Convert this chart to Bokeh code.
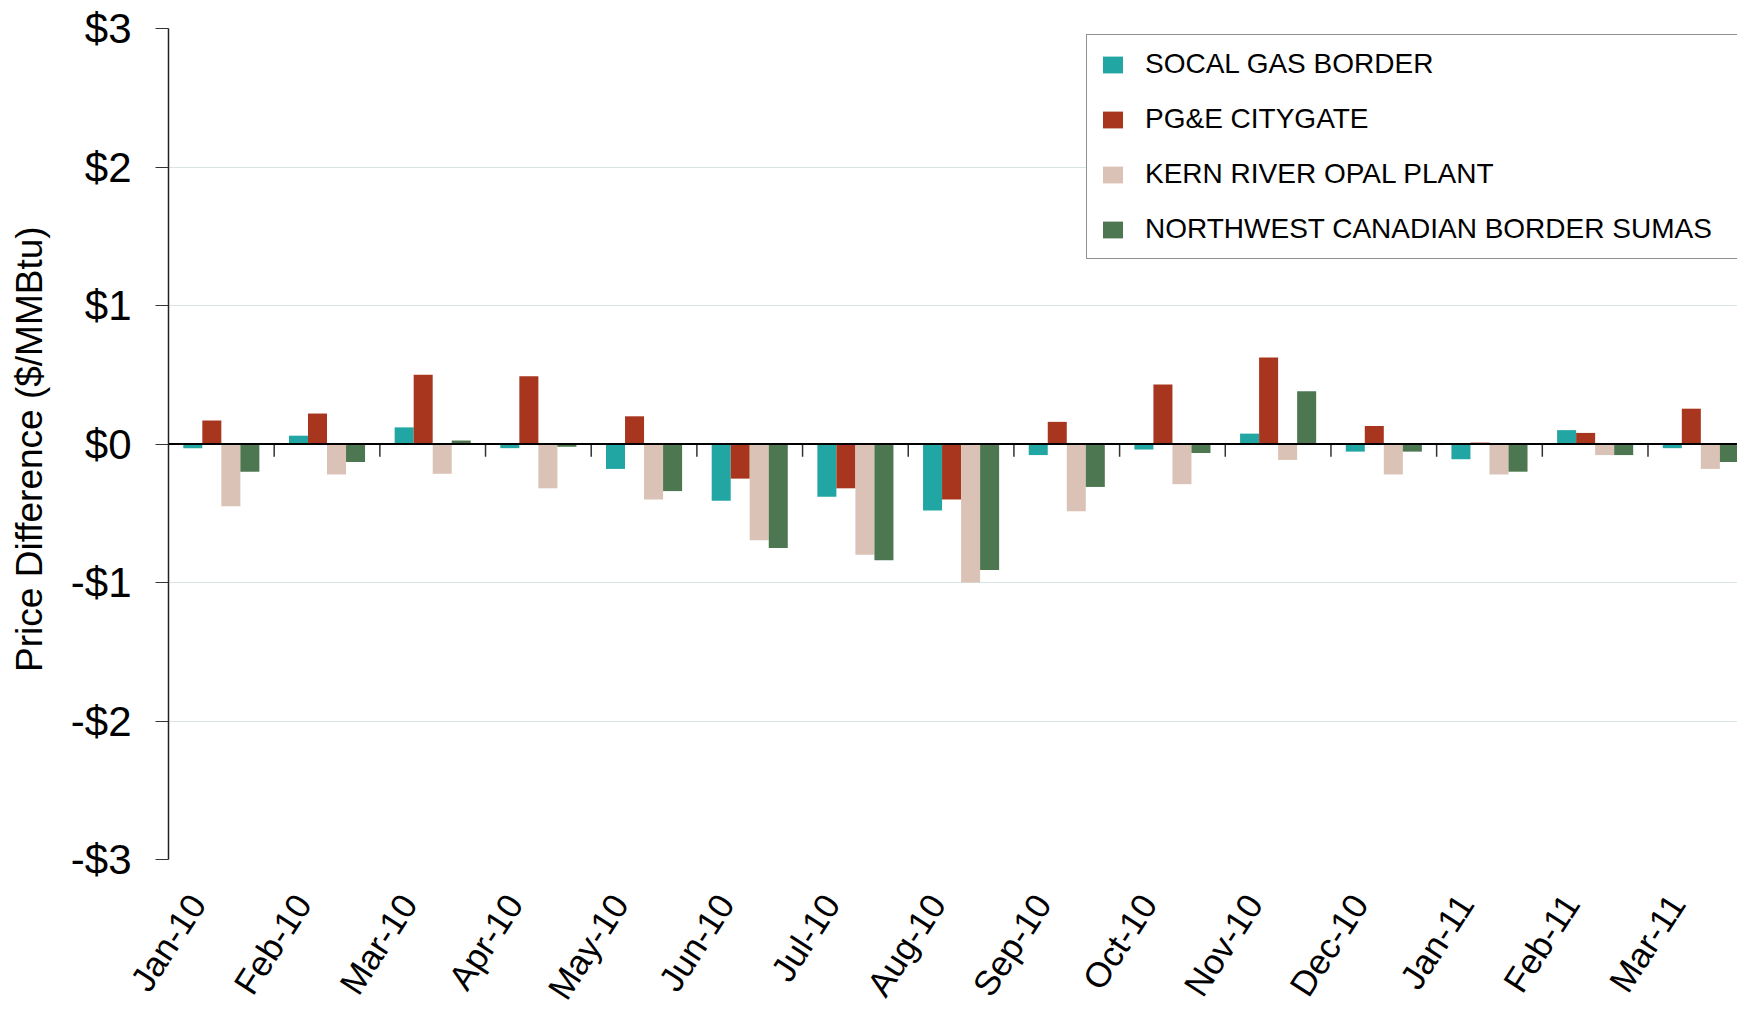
import numpy as np
from bokeh.plotting import figure
from bokeh.models import Range1d, FixedTicker, Span
from bokeh.embed import file_html
from bokeh.resources import INLINE

# ---- data ----
months = ["Jan-10", "Feb-10", "Mar-10", "Apr-10", "May-10", "Jun-10", "Jul-10",
          "Aug-10", "Sep-10", "Oct-10", "Nov-10", "Dec-10", "Jan-11", "Feb-11", "Mar-11"]
socal_gas_border = [-0.03, 0.06, 0.12, -0.03, -0.18, -0.41, -0.38, -0.48, -0.08, -0.04,
                    0.075, -0.055, -0.11, 0.10, -0.03]
pge_citygate = [0.17, 0.22, 0.50, 0.49, 0.20, -0.25, -0.32, -0.40, 0.16, 0.43,
                0.625, 0.13, 0.01, 0.08, 0.255]
kern_river_opal = [-0.45, -0.22, -0.215, -0.32, -0.40, -0.695, -0.80, -1.00, -0.485, -0.29,
                   -0.115, -0.22, -0.22, -0.08, -0.18]
nw_canadian_sumas = [-0.20, -0.13, 0.025, -0.02, -0.34, -0.75, -0.84, -0.91, -0.31, -0.065,
                     0.38, -0.055, -0.20, -0.08, -0.13]

series_names = ["SOCAL GAS BORDER", "PG&E CITYGATE", "KERN RIVER OPAL PLANT",
                "NORTHWEST CANADIAN BORDER SUMAS"]
series_values = [socal_gas_border, pge_citygate, kern_river_opal, nw_canadian_sumas]
series_colors = ["#22a6a4", "#a8361f", "#dac3b6", "#4c7750"]

y_ticks = [-3, -2, -1, 0, 1, 2, 3]
y_tick_labels = ["-$3", "-$2", "-$1", "$0", "$1", "$2", "$3"]

FONT = "Liberation Sans"

x = np.arange(len(months))
bar_w = 0.18
offsets = (np.arange(len(series_names)) - 1.5) * bar_w

p = figure(width=1737, height=1019, output_backend="svg", toolbar_location=None,
           x_range=Range1d(-0.5, 14.347), y_range=Range1d(-3, 3),
           min_border_left=168, min_border_right=0, min_border_top=28, min_border_bottom=0)
p.outline_line_color = None
p.background_fill_color = "white"

# grid
p.xgrid.visible = False
p.ygrid.ticker = FixedTicker(ticks=y_ticks)
p.ygrid.grid_line_color = "#d8e4e4"
p.ygrid.grid_line_width = 1

for vals, name, color, off in zip(series_values, series_names, series_colors, offsets):
    p.vbar(x=x + off, top=vals, bottom=0, width=bar_w, fill_color=color,
           line_color=None, legend_label=name)

# zero line and category separator ticks
p.add_layout(Span(location=0, dimension="width", line_color="black", line_width=1.8))
boundaries = x + 0.5
p.segment(x0=boundaries, y0=0, x1=boundaries, y1=-0.092, line_color="#333333", line_width=1.5)

# y axis
yax = p.yaxis[0]
yax.ticker = FixedTicker(ticks=y_ticks)
yax.major_label_overrides = dict(zip(y_ticks, y_tick_labels))
yax.major_label_text_font = FONT
yax.major_label_text_font_size = "42px"
yax.major_label_text_color = "black"
yax.major_label_standoff = 24
yax.major_tick_out = 13
yax.major_tick_in = 0
yax.minor_tick_line_color = None
yax.axis_line_color = "#222222"
yax.axis_line_width = 1.5
yax.major_tick_line_color = "#333333"
yax.major_tick_line_width = 1.2
yax.axis_label = "Price Difference  ($/MMBtu)"
yax.axis_label_text_font = FONT
yax.axis_label_text_font_size = "37px"
yax.axis_label_text_font_style = "normal"
yax.axis_label_text_color = "black"
yax.axis_label_standoff = 18

# x axis (labels only); rotated labels end a little left of each group's centre
label_pos = [round(float(i) - 0.23, 2) for i in x]
xax = p.xaxis[0]
xax.ticker = FixedTicker(ticks=label_pos)
xax.major_label_overrides = dict(zip(label_pos, months))
xax.major_label_orientation = np.deg2rad(57)
xax.major_label_text_font = FONT
xax.major_label_text_font_size = "35px"
xax.major_label_text_color = "black"
xax.major_label_standoff = 38
xax.axis_line_color = None
xax.major_tick_line_color = None
xax.minor_tick_line_color = None
xax.major_tick_out = 0

# legend
lg = p.legend[0]
lg.location = (918, 600)
lg.padding = 13
lg.spacing = 23
lg.glyph_width = 25
lg.glyph_height = 21
lg.label_standoff = 20
lg.label_width = 600
lg.label_text_font = FONT
lg.label_text_font_size = "28px"
lg.label_text_color = "black"
lg.border_line_color = "#222222"
lg.border_line_width = 1.2
lg.background_fill_color = "white"
lg.background_fill_alpha = 1.0
lg.margin = 0

open("out.html", "w").write(file_html(p, INLINE))
